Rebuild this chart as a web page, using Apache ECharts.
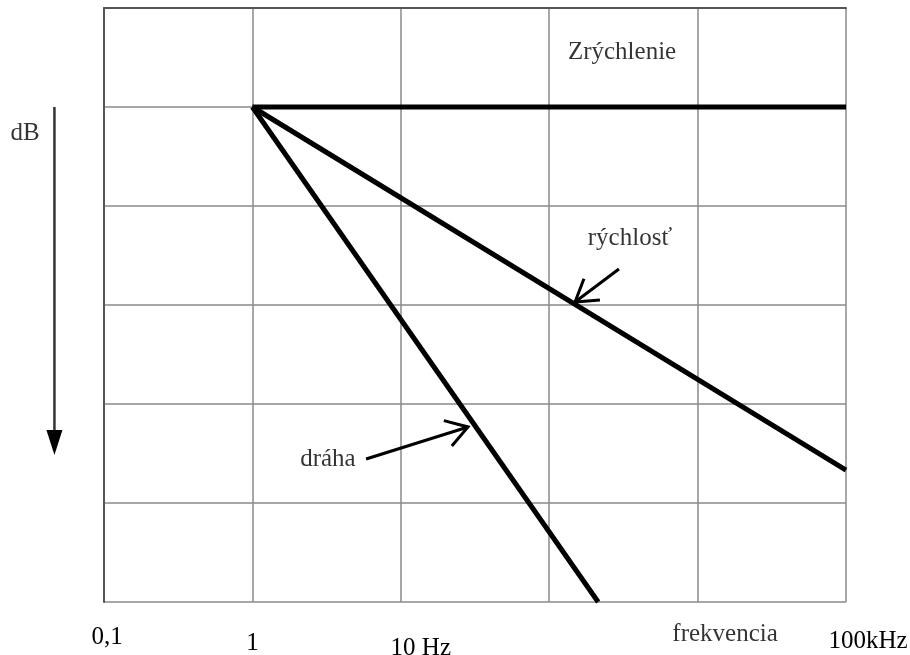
<!DOCTYPE html>
<html>
<head>
<meta charset="utf-8">
<script src="https://cdn.jsdelivr.net/npm/echarts@6/dist/echarts.min.js"></script>
<style>html,body{margin:0;padding:0;background:#fff}#c{width:910px;height:655px}</style>
</head>
<body>
<div id="c"></div>
<script>
// x: decade index (0 = 0,1 Hz ... 5 = 100 kHz), y: dB rows (0 top, increasing downwards)
var xTicks = ['0,1', '1', '10 Hz', '', '', '100kHz'];
var zrychlenie = [[1, 1], [5, 1]];
var rychlost = [[1, 1], [5, 4.667]];
var draha = [[1, 1], [3.33, 6]];
var labelTexts = ['Zrýchlenie', 'rýchlosť', 'dráha', 'dB', 'frekvencia'];
var labelPos = [[3.491, 0.444], [3.544, 2.323], [1.509, 4.565], [-0.532, 1.272], [4.185, 6.323]];
var arrowTails = [[3.470, 2.636], [1.766, 4.556], [-0.334, 1.0]];
var arrowHeads = [[3.174, 2.970], [2.453, 4.232], [-0.334, 4.515]];

var font = '"Liberation Serif", "Times New Roman", serif';
var FS = 25;
var chart = echarts.init(document.getElementById('c'));
// [top, left] padding tweaks per tick label
var tickPad = [[0, 6], [6, 0], [11, 40], [0, 0], [0, 0], [4, 44]];

var option = {
  backgroundColor: '#fff',
  animation: false,
  grid: {left: 104, right: 64, top: 8, bottom: 53, containLabel: false, outerBoundsMode: 'none'},
  xAxis: {
    type: 'value', min: 0, max: 5, interval: 1,
    axisLine: {show: true, lineStyle: {color: '#555', width: 2}},
    axisTick: {show: false},
    splitLine: {show: true, lineStyle: {color: '#8a8a8a', width: 1.5}},
    axisLabel: {
      margin: 23,
      color: '#000',
      fontFamily: font,
      fontSize: FS,
      showMinLabel: true, showMaxLabel: true,
      formatter: function (v) {
        var i = Math.round(v);
        return xTicks[i] ? '{t' + i + '|' + xTicks[i] + '}' : '';
      },
      rich: (function () {
        var r = {};
        for (var i = 0; i < xTicks.length; i++) {
          r['t' + i] = {fontFamily: font, fontSize: FS, color: '#000', padding: [tickPad[i][0], 0, 0, tickPad[i][1]]};
        }
        return r;
      })()
    }
  },
  yAxis: {
    type: 'value', min: 0, max: 6, interval: 1, inverse: true,
    axisLine: {show: true, lineStyle: {color: '#555', width: 2}},
    axisTick: {show: false},
    axisLabel: {show: false},
    splitLine: {show: true, lineStyle: {color: '#8a8a8a', width: 1.5}}
  },
  series: [
    {type: 'line', data: zrychlenie, symbol: 'none', lineStyle: {color: '#000', width: 5}},
    {type: 'line', data: rychlost, symbol: 'none', lineStyle: {color: '#000', width: 5}},
    {type: 'line', data: draha, symbol: 'none', lineStyle: {color: '#000', width: 5}},
    {
      type: 'scatter', clip: false, symbolSize: 0,
      data: labelPos.map(function (p, i) { return {value: p, name: labelTexts[i]}; }),
      label: {
        show: true, position: 'inside', formatter: '{b}',
        fontFamily: font, fontSize: FS, color: '#000'
      }
    }
  ]
};
chart.setOption(option);

function arrowGraphics() {
  var g = [];
  for (var i = 0; i < arrowTails.length; i++) {
    var t = chart.convertToPixel({gridIndex: 0}, arrowTails[i]);
    var h = chart.convertToPixel({gridIndex: 0}, arrowHeads[i]);
    var ang = Math.atan2(h[1] - t[1], h[0] - t[0]);
    if (i < 2) {
      var L = 25, a = 0.56;
      g.push({type: 'line', shape: {x1: t[0], y1: t[1], x2: h[0], y2: h[1]}, style: {stroke: '#000', lineWidth: 3}});
      g.push({type: 'polyline', shape: {points: [
        [h[0] - L * Math.cos(ang - a), h[1] - L * Math.sin(ang - a)],
        [h[0], h[1]],
        [h[0] - L * Math.cos(ang + a), h[1] - L * Math.sin(ang + a)]
      ]}, style: {stroke: '#000', lineWidth: 3, fill: null}});
    } else {
      var L2 = 25, w = 8;
      var bx = h[0] - L2 * Math.cos(ang), by = h[1] - L2 * Math.sin(ang);
      g.push({type: 'line', shape: {x1: t[0], y1: t[1], x2: bx, y2: by}, style: {stroke: '#333', lineWidth: 2.5}});
      g.push({type: 'polygon', shape: {points: [
        [h[0], h[1]],
        [bx - w * Math.sin(ang), by + w * Math.cos(ang)],
        [bx + w * Math.sin(ang), by - w * Math.cos(ang)]
      ]}, style: {fill: '#000'}});
    }
  }
  return g;
}
chart.setOption({graphic: arrowGraphics()});
</script>
</body>
</html>
